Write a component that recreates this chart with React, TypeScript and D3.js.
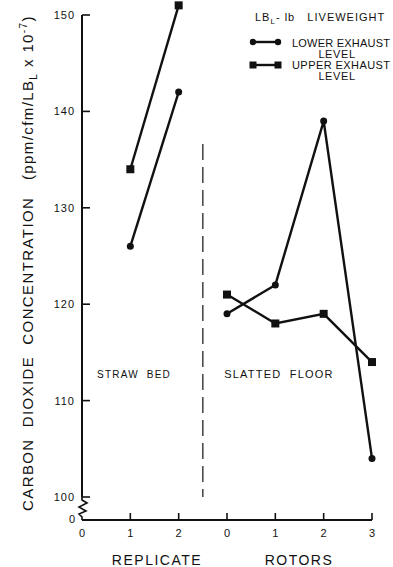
import * as d3 from "d3";

// straw bed replicates
const replicates = [1, 2];
const strawLower = [126, 142];
const strawUpper = [134, 151];

// slatted floor rotors
const rotors = [0, 1, 2, 3];
const slatLower = [119, 122, 139, 104];
const slatUpper = [121, 118, 119, 114];

const yTicks = [100, 110, 120, 130, 140, 150];
const xTickLabels = ["0", "1", "2", "0", "1", "2", "3"];

const W = 393;
const H = 567;
const FONT = "'Liberation Sans', Arial, sans-serif";

export default function App() {
  const x = d3.scaleLinear().domain([0, 6]).range([82, 372]);
  const y = d3.scaleLinear().domain([100, 150]).range([497, 15]);
  const axisY = 520;

  const line = d3
    .line<[number, number]>()
    .x((d) => x(d[0]))
    .y((d) => y(d[1]));

  // rotors are placed after the three replicate slots
  const strawLo: [number, number][] = replicates.map((r, i) => [r, strawLower[i]]);
  const strawUp: [number, number][] = replicates.map((r, i) => [r, strawUpper[i]]);
  const slatLo: [number, number][] = rotors.map((r, i) => [r + 3, slatLower[i]]);
  const slatUp: [number, number][] = rotors.map((r, i) => [r + 3, slatUpper[i]]);

  const x0 = x(0);
  const brk = `M${x0},${y(100)} L${x0},500 L${x0 + 5},503 L${x0 - 3},507 L${x0 + 4},511 L${x0 - 3},514 L${x0},517 L${x0},${axisY}`;

  const circles = (pts: [number, number][]) =>
    pts.map((d, i) => <circle key={i} cx={x(d[0])} cy={y(d[1])} r={3.5} fill="#111" />);
  const squares = (pts: [number, number][]) =>
    pts.map((d, i) => (
      <rect key={i} x={x(d[0]) - 4} y={y(d[1]) - 4} width={8} height={8} fill="#111" />
    ));

  return (
    <svg
      width={W}
      height={H}
      style={{ position: "absolute", left: 0, top: 0, background: "#fff" }}
      fontFamily={FONT}
    >
      {/* y axis */}
      <line x1={x0} x2={x0} y1={y(150)} y2={y(100)} stroke="#111" strokeWidth={2} />
      <path d={brk} fill="none" stroke="#111" strokeWidth={1.6} />
      {yTicks.map((t) => (
        <g key={t}>
          <line x1={x0} x2={x0 + 8} y1={y(t)} y2={y(t)} stroke="#111" strokeWidth={1.6} />
          <text x={75} y={y(t) + 4} textAnchor="end" fontSize={11} letterSpacing={1} fill="#111">
            {t}
          </text>
        </g>
      ))}
      <text x={75} y={axisY + 3} textAnchor="end" fontSize={11} fill="#111">0</text>

      {/* x axis */}
      <line x1={x0} x2={x(6)} y1={axisY} y2={axisY} stroke="#111" strokeWidth={2} />
      {xTickLabels.map((l, i) => (
        <g key={i}>
          {i > 0 && (
            <line x1={x(i)} x2={x(i)} y1={axisY} y2={axisY - 7} stroke="#111" strokeWidth={1.6} />
          )}
          <text x={x(i)} y={537} textAnchor="middle" fontSize={11} fill="#111">
            {l}
          </text>
        </g>
      ))}
      <text x={157} y={565} textAnchor="middle" fontSize={14} letterSpacing={1.5} fill="#111">
        REPLICATE
      </text>
      <text x={299} y={565} textAnchor="middle" fontSize={14} letterSpacing={1.5} fill="#111">
        ROTORS
      </text>

      {/* y title */}
      <text
        transform={`translate(33,263) rotate(-90)`}
        textAnchor="middle"
        fontSize={15}
        letterSpacing={1.4}
        fill="#111"
        xmlSpace="preserve"
      >
        {"CARBON  DIOXIDE  CONCENTRATION   (ppm/cfm/LB"}
        <tspan fontSize={10} dy={4}>L</tspan>
        <tspan dy={-4}>{" x 10"}</tspan>
        <tspan fontSize={10} dy={-6}>-7</tspan>
        <tspan dy={6}>)</tspan>
      </text>

      {/* divider */}
      <line x1={x(2.5)} x2={x(2.5)} y1={144} y2={497} stroke="#333" strokeWidth={1.4} strokeDasharray="16,7" />
      <text x={134} y={378} textAnchor="middle" fontSize={10} letterSpacing={1.2} fill="#111" xmlSpace="preserve">
        {"STRAW  BED"}
      </text>
      <text x={279} y={378} textAnchor="middle" fontSize={11} letterSpacing={1.2} fill="#111" xmlSpace="preserve">
        {"SLATTED  FLOOR"}
      </text>

      {/* series */}
      {[strawLo, strawUp, slatLo, slatUp].map((pts, i) => (
        <path key={i} d={line(pts) || ""} fill="none" stroke="#111" strokeWidth={2.4} />
      ))}
      {circles(strawLo)}
      {circles(slatLo)}
      {squares(strawUp)}
      {squares(slatUp)}

      {/* legend */}
      <text x={255} y={21} fontSize={11} letterSpacing={1} fill="#111" xmlSpace="preserve">
        {"LB"}
        <tspan fontSize={8} dy={3}>L</tspan>
        <tspan dy={-3}>{"- lb   LIVEWEIGHT"}</tspan>
      </text>
      <line x1={253} x2={278} y1={42} y2={42} stroke="#111" strokeWidth={2.4} />
      <circle cx={253} cy={42} r={3.2} fill="#111" />
      <circle cx={278} cy={42} r={3.2} fill="#111" />
      <text x={292} y={47} fontSize={11} textLength={98} lengthAdjust="spacing" fill="#111">
        LOWER EXHAUST
      </text>
      <text x={337} y={57.5} textAnchor="middle" fontSize={11} letterSpacing={0.6} fill="#111">
        LEVEL
      </text>
      <line x1={253} x2={278} y1={65} y2={65} stroke="#111" strokeWidth={2.4} />
      <rect x={249.5} y={61.5} width={7} height={7} fill="#111" />
      <rect x={274.5} y={61.5} width={7} height={7} fill="#111" />
      <text x={292} y={69} fontSize={11} textLength={98} lengthAdjust="spacing" fill="#111">
        UPPER EXHAUST
      </text>
      <text x={337} y={80} textAnchor="middle" fontSize={11} letterSpacing={0.6} fill="#111">
        LEVEL
      </text>
    </svg>
  );
}
